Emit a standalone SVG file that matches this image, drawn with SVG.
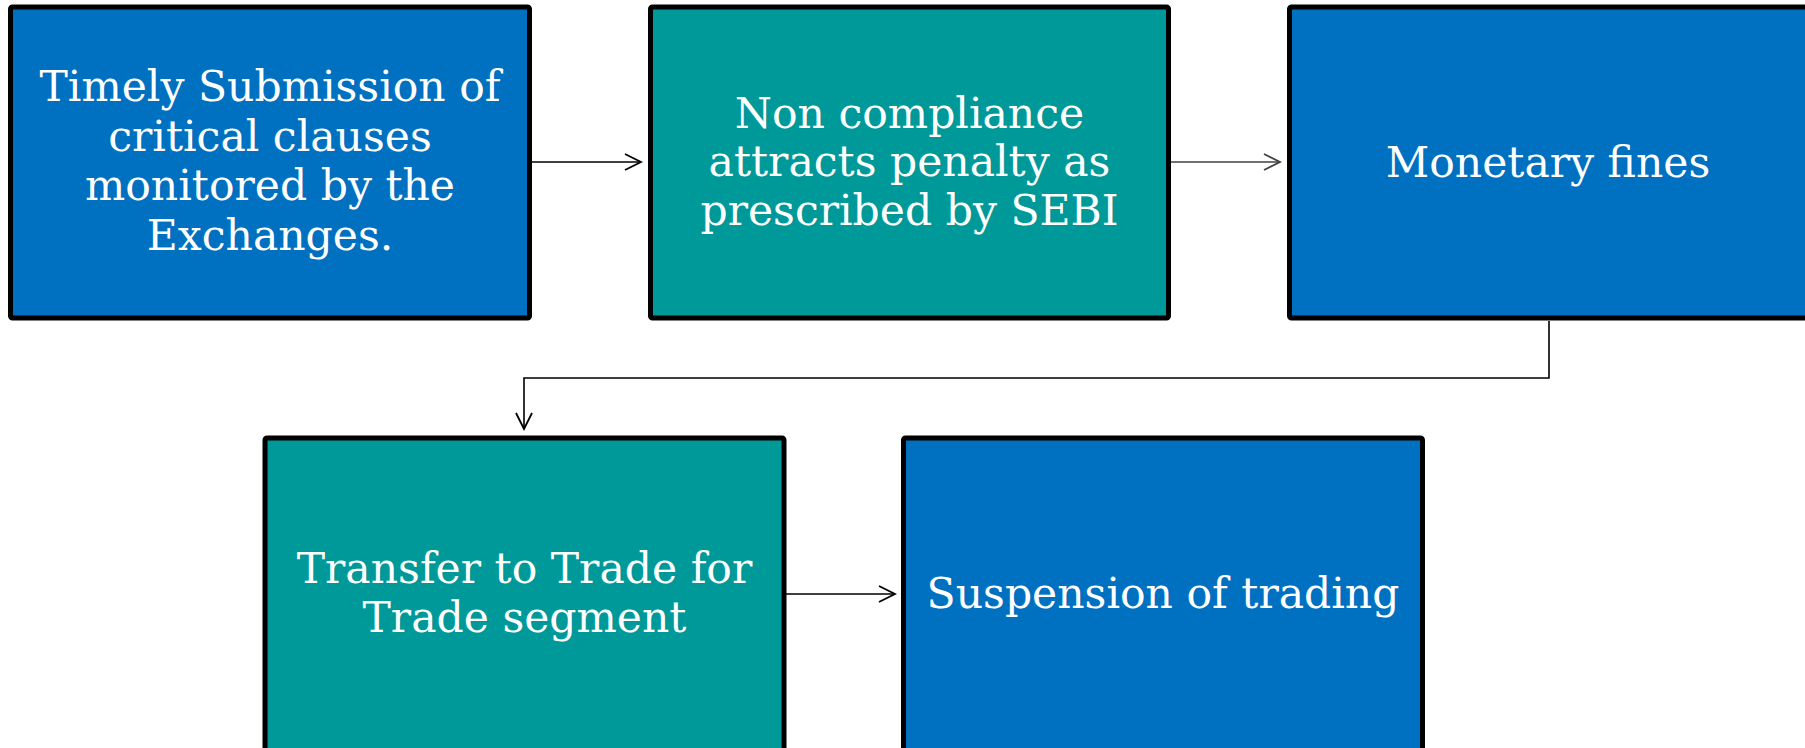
<svg xmlns="http://www.w3.org/2000/svg" width="1805" height="748" viewBox="0 0 1805 748">
<style>
.box{stroke:#000;stroke-width:5}
.blue{fill:#0070C0}
.teal{fill:#009999}
.t{font-family:"DejaVu Serif","Liberation Serif",serif;font-size:42.5px;fill:#fff;text-anchor:middle}
.c{fill:none;stroke:#000;stroke-width:1.6}
</style>
<defs>
<marker id="arrB" markerUnits="userSpaceOnUse" viewBox="0 0 20 20" refX="18" refY="10" markerWidth="20" markerHeight="20" orient="auto">
<path d="M2,2 L18,10 L2,18" fill="none" stroke="#000" stroke-width="1.8"/>
</marker>
<marker id="arrG" markerUnits="userSpaceOnUse" viewBox="0 0 20 20" refX="18" refY="10" markerWidth="20" markerHeight="20" orient="auto">
<path d="M2,2 L18,10 L2,18" fill="none" stroke="#404040" stroke-width="1.8"/>
</marker>
</defs>
<rect width="1805" height="748" fill="#fff"/>
<g id="connectors">
<path class="c" d="M532,162 H641" marker-end="url(#arrB)"/>
<path class="c" d="M1171,162 H1280" style="stroke:#404040" marker-end="url(#arrG)"/>
<path class="c" d="M1549,321 V378 H524 V429" marker-end="url(#arrB)"/>
<path class="c" d="M786,594 H895" marker-end="url(#arrB)"/>
</g>
<g id="node1">
<rect class="box blue" x="10.5" y="7" width="519" height="311" rx="2"/>
<text class="t"><tspan x="270" y="101">Timely Submission of</tspan><tspan x="270" y="151">critical clauses</tspan><tspan x="270" y="200">monitored by the</tspan><tspan x="270" y="250">Exchanges.</tspan></text>
</g>
<g id="node2">
<rect class="box teal" x="650.5" y="7" width="518" height="311" rx="2"/>
<text class="t"><tspan x="909.5" y="128">Non compliance</tspan><tspan x="909.5" y="176">attracts penalty as</tspan><tspan x="909.5" y="225">prescribed by SEBI</tspan></text>
</g>
<g id="node3">
<rect class="box blue" x="1289.5" y="7" width="519" height="311" rx="2"/>
<text class="t" x="1548" y="177">Monetary fines</text>
</g>
<g id="node4">
<rect class="box teal" x="265" y="438" width="519" height="314" rx="2"/>
<text class="t"><tspan x="524.5" y="583">Transfer to Trade for</tspan><tspan x="524.5" y="632">Trade segment</tspan></text>
</g>
<g id="node5">
<rect class="box blue" x="903.5" y="438" width="519" height="314" rx="2"/>
<text class="t" x="1163" y="608">Suspension of trading</text>
</g>
</svg>
